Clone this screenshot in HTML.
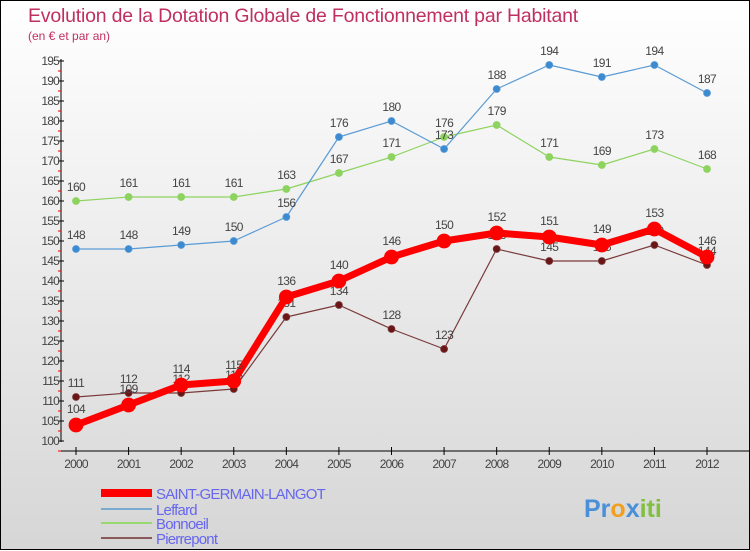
<!DOCTYPE html>
<html><head><meta charset="utf-8"><style>
html,body{margin:0;padding:0}
body{width:750px;height:550px;overflow:hidden}
#c{position:absolute;left:0;top:0;width:748px;height:548px;border:1px solid #000;background:linear-gradient(#ffffff,#d6d6d6)}
svg{position:absolute;left:0;top:0}
text{font-family:"Liberation Sans",sans-serif}
</style></head><body>
<div id="c">
<svg id="s" width="750" height="550">
<text x="27" y="21" font-size="19.5" fill="#c0305f" letter-spacing="-0.2">Evolution de la Dotation Globale de Fonctionnement par Habitant</text>
<text x="27" y="39" font-size="12" fill="#c0305f">(en € et par an)</text>
</svg>
</div>
<script>
const years=["2000","2001","2002","2003","2004","2005","2006","2007","2008","2009","2010","2011","2012"];
const yTicks=[100,105,110,115,120,125,130,135,140,145,150,155,160,165,170,175,180,185,190,195];
const sgl=[104,109,114,115,136,140,146,150,152,151,149,153,146];
const leffard=[148,148,149,150,156,176,180,173,188,194,191,194,187];
const bonnoeil=[160,161,161,161,163,167,171,176,179,171,169,173,168];
const pierrepont=[111,112,112,113,131,134,128,123,148,145,145,149,144];
const NS="http://www.w3.org/2000/svg";
const s=document.getElementById('s');
function X(i){return 75+i*(706-75)/12;}
function Y(v){return 440-(v-100)*4;}
function el(t,a,p){const e=document.createElementNS(NS,t);for(const k in a)e.setAttribute(k,a[k]);(p||s).appendChild(e);return e;}
let ax=el('line',{x1:60,y1:58,x2:60,y2:441,stroke:'#000','stroke-width':1});


ax=el('line',{x1:60,y1:450,x2:750,y2:450,stroke:'#000','stroke-width':1});


yTicks.forEach(v=>{
  el('line',{x1:57,y1:Y(v),x2:63,y2:Y(v),stroke:'#000'});
  el('line',{x1:57,y1:Y(v)+10,x2:60,y2:Y(v)+10,stroke:'#e00'});
  const t=el('text',{x:58,y:Y(v)+4,'font-size':12,fill:'#444','text-anchor':'end','letter-spacing':'-0.8'});
  t.textContent=v;
  
  
});
years.forEach((y,i)=>{
  el('line',{x1:X(i),y1:446,x2:X(i),y2:454,stroke:'#000'});
  const t=el('text',{x:X(i),y:467,'font-size':12,fill:'#444','text-anchor':'middle','letter-spacing':'-0.8'});
  t.textContent=y;
  
  
});
function series(d,color,w,r,name,dot,labOff){
  const g=el('g',{});
  
  
  el('polyline',{points:d.map((v,i)=>X(i)+','+Y(v)).join(' '),fill:'none',stroke:color,'stroke-width':w,'stroke-linejoin':'round'},g);
  d.forEach((v,i)=>{
    const c=el('circle',{cx:X(i),cy:Y(v),r:r,fill:dot,stroke:color,'stroke-width':0.8},g);
    
    
    const t=el('text',{x:X(i),y:Y(v)-labOff,'font-size':12,fill:'#444','text-anchor':'middle','letter-spacing':'-0.6'},g);
    t.textContent=v;
    
    
  });
}
series(pierrepont,'#7a3a3a',1.2,3.5,'pierrepont','#6b1616',10);
series(bonnoeil,'#8dd35f',1.2,3.5,'bonnoeil','#8dd35f',10);
series(leffard,'#5b9bd5',1.2,3.5,'leffard','#3c8ad0',10);
series(sgl,'#ff0000',7,7,'saint-germain-langot','#ff0000',12);
const leg=[['SAINT-GERMAIN-LANGOT','#ff0000',8,492],['Leffard','#7aabcf',2,508],['Bonnoeil','#98d870',2,522],['Pierrepont','#8a5a5a',2,537]];
leg.forEach(l=>{
  const g=el('g',{});
  
  
  el('line',{x1:100,y1:l[3],x2:151,y2:l[3],stroke:l[1],'stroke-width':l[2]},g);
  const t=el('text',{x:155,y:l[3]+6,'font-size':15,fill:'#6666ee','letter-spacing':'-0.8'},g);
  t.textContent=l[0];
});
const p=el('text',{x:583,y:516,'font-size':25,'font-weight':'bold',fill:'#3a8fd0'});
p.innerHTML='<tspan fill="#4a90d9">Pr</tspan><tspan fill="#f0a020">o</tspan><tspan fill="#4a90d9">x</tspan><tspan fill="#80c040">iti</tspan>';


</script>
</body></html>
